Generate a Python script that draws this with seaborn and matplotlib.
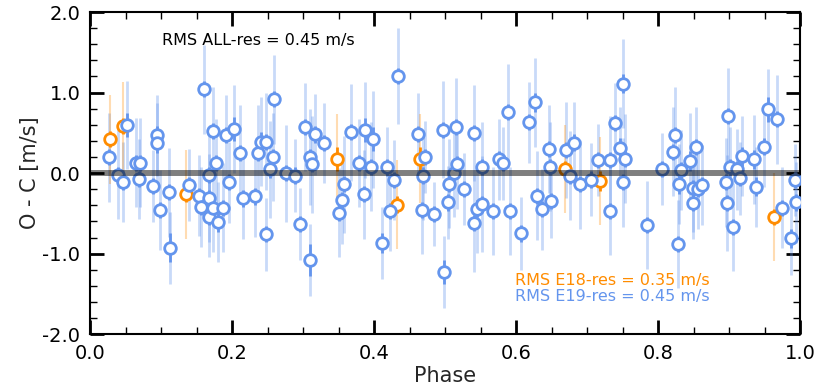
import matplotlib
matplotlib.use("Agg")
import matplotlib.pyplot as plt
import numpy as np
import pandas as pd
import seaborn as sns

# E19 residuals (blue)
phase_e19 = [0.026, 0.039, 0.047, 0.052, 0.064, 0.069, 0.0705, 0.089, 0.094, 0.094,
             0.098, 0.111, 0.113, 0.1397, 0.154, 0.1566, 0.161, 0.167, 0.167, 0.168,
             0.173, 0.1725, 0.178, 0.1796, 0.1866, 0.191, 0.196, 0.202, 0.2116, 0.2153,
             0.2318, 0.236, 0.2407, 0.2478, 0.2478, 0.254, 0.257, 0.2586, 0.2765, 0.289,
             0.296, 0.3023, 0.3094, 0.309, 0.3127, 0.317, 0.329, 0.351, 0.355, 0.357,
             0.368, 0.3785, 0.3855, 0.387, 0.395, 0.399, 0.4114, 0.4185, 0.423, 0.428,
             0.434, 0.462, 0.468, 0.4687, 0.4715, 0.485, 0.497, 0.499, 0.5045, 0.505,
             0.513, 0.5148, 0.517, 0.5265, 0.5406, 0.5406, 0.545, 0.5515, 0.5524, 0.5675,
             0.576, 0.582, 0.589, 0.591, 0.6065, 0.618, 0.626, 0.63, 0.636, 0.646,
             0.647, 0.649, 0.67, 0.676, 0.681, 0.69, 0.705, 0.7146, 0.732, 0.732,
             0.7395, 0.7466, 0.751, 0.751, 0.753, 0.784, 0.806, 0.821, 0.824, 0.828,
             0.83, 0.832, 0.845, 0.8486, 0.8495, 0.853, 0.8556, 0.8618, 0.8956, 0.8965,
             0.898, 0.9017, 0.906, 0.911, 0.915, 0.918, 0.9355, 0.938, 0.9497, 0.9553,
             0.967, 0.974, 0.987, 0.993, 0.994]
oc_e19 = [0.195, -0.02, -0.11, 0.60, 0.13, -0.075, 0.13, -0.16, 0.47, 0.37,
          -0.46, -0.24, -0.93, -0.15, -0.28, -0.42, 1.04, -0.31, -0.54, -0.025,
          0.52, -0.43, 0.12, -0.61, -0.43, 0.47, -0.116, 0.55, 0.245, -0.315,
          -0.29, 0.25, 0.39, 0.39, -0.76, 0.045, 0.2, 0.915, -0.004, -0.03,
          -0.63, 0.575, 0.2, -1.08, 0.11, 0.48, 0.375, -0.49, -0.335, -0.14,
          0.505, 0.128, -0.265, 0.534, 0.08, 0.42, -0.866, 0.07, -0.47, -0.087,
          1.205, 0.49, -0.46, -0.03, 0.2, -0.51, 0.54, -1.23, -0.365, -0.13,
          0.0, 0.575, 0.11, -0.2, 0.5, -0.625, -0.44, -0.385, 0.08, -0.47,
          0.17, 0.12, 0.754, -0.47, -0.75, 0.63, 0.878, -0.28, -0.45, 0.3,
          0.08, -0.35, 0.286, -0.03, 0.38, -0.14, -0.08, 0.16, 0.16, -0.47,
          0.625, 0.315, 1.11, -0.116, 0.18, -0.646, 0.05, 0.265, 0.47, -0.88,
          -0.137, 0.04, 0.15, -0.18, -0.37, 0.32, -0.2, -0.15, -0.116, -0.37,
          0.708, 0.07, -0.667, 0.045, -0.066, 0.21, 0.17, -0.17, 0.33, 0.79,
          0.667, -0.43, -0.81, -0.087, -0.365]
err_e19 = [0.55, 0.55, 0.5, 0.55, 0.55, 0.5, 0.55, 0.45, 0.5, 0.5,
           0.5, 0.55, 0.45, 0.45, 0.5, 0.5, 0.55, 0.55, 0.5, 0.55,
           0.55, 0.55, 0.55, 0.5, 0.55, 0.5, 0.5, 0.55, 0.6, 0.5,
           0.5, 0.6, 0.55, 0.6, 0.45, 0.6, 0.55, 0.55, 0.6, 0.45,
           0.45, 0.55, 0.6, 0.45, 0.6, 0.5, 0.5, 0.55, 0.55, 0.6,
           0.6, 0.55, 0.55, 0.6, 0.55, 0.6, 0.45, 0.5, 0.5, 0.5,
           0.6, 0.5, 0.55, 0.55, 0.45, 0.4, 0.6, 0.45, 0.45, 0.55,
           0.55, 0.6, 0.55, 0.45, 0.6, 0.6, 0.55, 0.6, 0.55, 0.55,
           0.5, 0.45, 0.6, 0.55, 0.45, 0.5, 0.55, 0.55, 0.5, 0.55,
           0.55, 0.45, 0.6, 0.55, 0.5, 0.55, 0.45, 0.45, 0.55, 0.55,
           0.5, 0.5, 0.55, 0.55, 0.55, 0.55, 0.45, 0.55, 0.6, 0.55,
           0.5, 0.5, 0.6, 0.55, 0.45, 0.5, 0.5, 0.5, 0.55, 0.6,
           0.6, 0.5, 0.55, 0.5, 0.45, 0.5, 0.55, 0.5, 0.5, 0.5,
           0.55, 0.5, 0.45, 0.45, 0.5]
ierr_e19 = [0.1, 0.1, 0.1, 0.15, 0.1, 0.1, 0.1, 0.1, 0.12, 0.12,
            0.1, 0.1, 0.18, 0.1, 0.1, 0.1, 0.1, 0.1, 0.1, 0.1,
            0.1, 0.1, 0.1, 0.12, 0.1, 0.1, 0.1, 0.15, 0.1, 0.1,
            0.1, 0.1, 0.12, 0.1, 0.1, 0.1, 0.1, 0.1, 0.1, 0.1,
            0.1, 0.1, 0.1, 0.2, 0.1, 0.1, 0.1, 0.1, 0.1, 0.1,
            0.1, 0.1, 0.1, 0.15, 0.1, 0.15, 0.12, 0.1, 0.1, 0.1,
            0.1, 0.1, 0.1, 0.1, 0.1, 0.1, 0.1, 0.15, 0.1, 0.1,
            0.1, 0.1, 0.1, 0.1, 0.1, 0.1, 0.1, 0.1, 0.1, 0.1,
            0.1, 0.1, 0.1, 0.1, 0.1, 0.1, 0.12, 0.1, 0.1, 0.1,
            0.1, 0.1, 0.1, 0.1, 0.1, 0.1, 0.1, 0.1, 0.1, 0.1,
            0.1, 0.12, 0.12, 0.1, 0.1, 0.1, 0.1, 0.1, 0.1, 0.1,
            0.12, 0.1, 0.12, 0.1, 0.1, 0.1, 0.1, 0.1, 0.1, 0.1,
            0.1, 0.1, 0.1, 0.1, 0.1, 0.12, 0.12, 0.12, 0.1, 0.15,
            0.1, 0.1, 0.12, 0.1, 0.1]

# E18 residuals (orange)
phase_e18 = [0.028, 0.047, 0.135, 0.348, 0.4316, 0.4645, 0.6685, 0.718, 0.963]
oc_e18 = [0.42, 0.58, -0.265, 0.18, -0.39, 0.18, 0.05, -0.1, -0.543]
err_e18 = [0.55, 0.55, 0.55, 0.55, 0.55, 0.55, 0.55, 0.55, 0.55]
ierr_e18 = [0.1, 0.1, 0.1, 0.15, 0.1, 0.15, 0.1, 0.12, 0.1]

blue = "#6495ED"
orange = "#FF8C00"

df19 = pd.DataFrame({"Phase": phase_e19, "OC": oc_e19})
df18 = pd.DataFrame({"Phase": phase_e18, "OC": oc_e18})

sns.set_style("ticks")
plt.rcParams["font.family"] = ["DejaVu Sans"]

fig = plt.figure(figsize=(8.19, 3.89), dpi=100)
ax = fig.add_axes([0.110, 0.141, 0.867, 0.828])

# light (total) and dark (internal) error bars
ax.errorbar(phase_e19, oc_e19, yerr=err_e19, fmt="none", ecolor=blue,
            alpha=0.35, elinewidth=2, zorder=1)
ax.errorbar(phase_e18, oc_e18, yerr=err_e18, fmt="none", ecolor=orange,
            alpha=0.3, elinewidth=1.5, zorder=1)
ax.errorbar(phase_e19, oc_e19, yerr=ierr_e19, fmt="none", ecolor=blue,
            elinewidth=2, zorder=2)
ax.errorbar(phase_e18, oc_e18, yerr=ierr_e18, fmt="none", ecolor=orange,
            elinewidth=2, zorder=2)

sns.scatterplot(data=df18, x="Phase", y="OC", ax=ax, marker="o", s=70,
                facecolor="white", edgecolor=orange, linewidth=2, zorder=3)
sns.scatterplot(data=df19, x="Phase", y="OC", ax=ax, marker="o", s=70,
                facecolor="white", edgecolor=blue, linewidth=2, zorder=4)

ax.axhline(0.0, color="black", alpha=0.5, lw=4.3, zorder=5)

ax.set_xlim(0, 1)
ax.set_ylim(-2, 2)
ax.set_xticks(np.arange(0, 1.01, 0.2))
ax.set_yticks(np.arange(-2, 2.01, 1.0))
ax.set_xticks(np.arange(0, 1.001, 0.05), minor=True)
ax.set_yticks(np.arange(-2, 2.001, 0.2), minor=True)
ax.set_xticklabels(["0.0", "0.2", "0.4", "0.6", "0.8", "1.0"])
ax.set_yticklabels(["-2.0", "-1.0", "0.0", "1.0", "2.0"])
ax.tick_params(which="both", direction="in", top=True, right=True,
               labelsize=14, colors="black")
ax.tick_params(which="major", length=10, width=2, pad=7)
ax.tick_params(which="minor", length=5, width=1)
for s in ax.spines.values():
    s.set_linewidth(1.5)
    s.set_color("black")

ax.set_xlabel("Phase", fontsize=15, labelpad=2)
ax.set_ylabel("O - C [m/s]", fontsize=15, labelpad=2)

ax.text(0.101, 0.913, "RMS ALL-res = 0.45 m/s", transform=ax.transAxes,
        fontsize=11.5, color="black", va="center")
ax.text(0.599, 0.168, "RMS E18-res = 0.35 m/s", transform=ax.transAxes,
        fontsize=11.5, color=orange, va="center")
ax.text(0.599, 0.116, "RMS E19-res = 0.45 m/s", transform=ax.transAxes,
        fontsize=11.5, color=blue, va="center")

fig.savefig("out.png", dpi=100)
